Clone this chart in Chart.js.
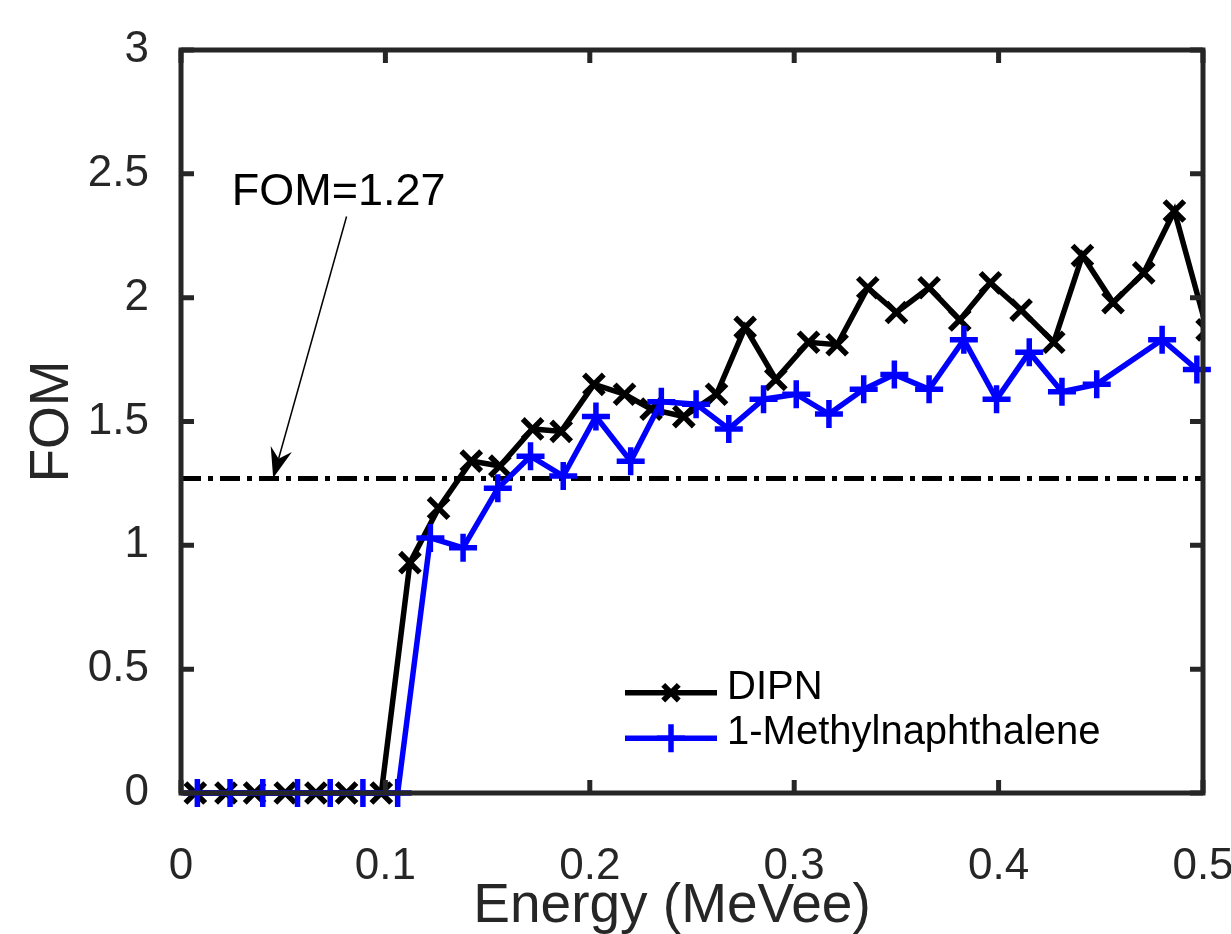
<!DOCTYPE html>
<html>
<head>
<meta charset="utf-8">
<title>FOM vs Energy</title>
<script src="https://cdn.jsdelivr.net/npm/chart.js@4/dist/chart.umd.min.js"></script>
<style>
  html, body { margin: 0; padding: 0; background: #fff; }
  canvas { display: block; }
</style>
</head>
<body>
<canvas id="fom" width="1231" height="934"></canvas>
<script>
const dipnEnergy = [0.007, 0.022, 0.036, 0.051, 0.066, 0.081, 0.098, 0.112, 0.126, 0.142, 0.156, 0.172, 0.186,
  0.202, 0.217, 0.230, 0.246, 0.262, 0.276, 0.291, 0.307, 0.321, 0.336, 0.350, 0.366, 0.381, 0.396,
  0.411, 0.427, 0.441, 0.456, 0.471, 0.486, 0.502];
const dipnFom = [0, 0, 0, 0, 0, 0, 0, 0.93, 1.15, 1.34, 1.32, 1.47, 1.46,
  1.65, 1.61, 1.55, 1.52, 1.61, 1.88, 1.67, 1.82, 1.81, 2.04, 1.94, 2.04, 1.91, 2.06,
  1.95, 1.82, 2.17, 1.98, 2.10, 2.35, 1.87];

const mnEnergy = [0.008, 0.024, 0.040, 0.057, 0.073, 0.089, 0.106, 0.122, 0.138, 0.155, 0.171, 0.187,
  0.203, 0.220, 0.235, 0.252, 0.268, 0.285, 0.301, 0.317, 0.334, 0.349, 0.366, 0.383, 0.399,
  0.415, 0.431, 0.448, 0.480, 0.497];
const mnFom = [0, 0, 0, 0, 0, 0, 0, 1.03, 0.99, 1.23, 1.36, 1.28,
  1.52, 1.34, 1.58, 1.57, 1.47, 1.59, 1.61, 1.53, 1.63, 1.69, 1.63, 1.83, 1.59,
  1.78, 1.62, 1.65, 1.83, 1.71];

const fomLimit = 1.27;
const fomLabel = "FOM=1.27";
const xTitle = "Energy (MeVee)";
const yTitle = "FOM";

// annotation anchor points, in data units
const noteText = { x: 0.0248, y: 2.375 };
const noteFrom = { x: 0.081, y: 2.328 };
const noteTo = { x: 0.0451, y: 1.272 };

const fontFamily = '"Liberation Sans", Arial, Helvetica, sans-serif';
const axisColor = "#262626";

function points(xs, ys) {
  return xs.map(function (x, i) {
    return { x: x, y: ys[i] };
  });
}

function tickText(value) {
  return String(Number(value.toFixed(2)));
}

function drawArrow(ctx, x0, y0, x1, y1) {
  const dx = x1 - x0;
  const dy = y1 - y0;
  const len = Math.sqrt(dx * dx + dy * dy);
  const ux = dx / len;
  const uy = dy / len;
  const headLen = 30;
  const halfW = 11;
  const notch = 10;
  ctx.beginPath();
  ctx.moveTo(x0, y0);
  ctx.lineTo(x1 - ux * (headLen - notch), y1 - uy * (headLen - notch));
  ctx.lineWidth = 1.5;
  ctx.stroke();
  ctx.beginPath();
  ctx.moveTo(x1, y1);
  ctx.lineTo(x1 - ux * headLen - uy * halfW, y1 - uy * headLen + ux * halfW);
  ctx.lineTo(x1 - ux * (headLen - notch), y1 - uy * (headLen - notch));
  ctx.lineTo(x1 - ux * headLen + uy * halfW, y1 - uy * headLen - ux * halfW);
  ctx.closePath();
  ctx.fill();
}

const frame = {
  id: "frame",
  afterDatasetsDraw(chart) {
    const ctx = chart.ctx;
    const a = chart.chartArea;
    const x = chart.scales.x;
    const y = chart.scales.y;
    ctx.save();

    // box with inward ticks on all four sides
    ctx.strokeStyle = axisColor;
    ctx.lineWidth = 5;
    ctx.lineCap = "square";
    ctx.strokeRect(a.left, a.top, a.right - a.left, a.bottom - a.top);
    ctx.lineCap = "butt";
    ctx.beginPath();
    x.ticks.forEach(function (t) {
      const px = x.getPixelForValue(t.value);
      ctx.moveTo(px, a.bottom);
      ctx.lineTo(px, a.bottom - 13);
      ctx.moveTo(px, a.top);
      ctx.lineTo(px, a.top + 13);
    });
    y.ticks.forEach(function (t) {
      const py = y.getPixelForValue(t.value);
      ctx.moveTo(a.left, py);
      ctx.lineTo(a.left + 13, py);
      ctx.moveTo(a.right, py);
      ctx.lineTo(a.right - 13, py);
    });
    ctx.stroke();

    // axis titles
    ctx.fillStyle = axisColor;
    ctx.font = "55px " + fontFamily;
    ctx.textAlign = "center";
    ctx.textBaseline = "alphabetic";
    ctx.fillText(xTitle, 672, 922);
    ctx.save();
    ctx.translate(68, (a.top + a.bottom) / 2);
    ctx.rotate(-Math.PI / 2);
    ctx.fillText(yTitle, 0, 0);
    ctx.restore();

    // FOM=1.27 note with arrow
    ctx.fillStyle = "#000";
    ctx.strokeStyle = "#000";
    ctx.font = "45px " + fontFamily;
    ctx.textAlign = "left";
    ctx.fillText(fomLabel, x.getPixelForValue(noteText.x), y.getPixelForValue(noteText.y));
    drawArrow(ctx,
      x.getPixelForValue(noteFrom.x), y.getPixelForValue(noteFrom.y),
      x.getPixelForValue(noteTo.x), y.getPixelForValue(noteTo.y));

    // legend
    const rows = [692.7, 738.3];
    ctx.font = "40px " + fontFamily;
    ctx.textBaseline = "middle";
    [0, 1].forEach(function (i) {
      const ds = chart.data.datasets[i];
      const ly = rows[i];
      ctx.beginPath();
      ctx.moveTo(625, ly);
      ctx.lineTo(717, ly);
      ctx.strokeStyle = ds.borderColor;
      ctx.lineWidth = 5.5;
      ctx.stroke();
      ctx.lineWidth = 5.5;
      ctx.strokeStyle = ds.borderColor;
      Chart.helpers.drawPoint(ctx, {
        pointStyle: ds.pointStyle,
        radius: i === 0 ? 11 : 14,
        rotation: 0,
        borderWidth: 5.5
      }, 671, ly);
      ctx.fillStyle = "#000";
      ctx.fillText(ds.label, 727, ly - 5);
    });

    ctx.restore();
  }
};

const canvas = document.getElementById("fom");

new Chart(canvas, {
  type: "line",
  data: {
    datasets: [
      {
        label: "DIPN",
        data: points(dipnEnergy, dipnFom),
        borderColor: "#000000",
        backgroundColor: "#000000",
        borderWidth: 5.5,
        pointStyle: "crossRot",
        pointRadius: 14,
        pointBorderWidth: 5.5,
        pointBorderColor: "#000000",
        tension: 0,
        order: 2,
        clip: { left: 20, top: 20, right: 0, bottom: 20 },
      },
      {
        label: "1-Methylnaphthalene",
        data: points(mnEnergy, mnFom),
        borderColor: "#0000ff",
        backgroundColor: "#0000ff",
        borderWidth: 5.5,
        pointStyle: "cross",
        pointRadius: 14,
        pointBorderWidth: 5.5,
        pointBorderColor: "#0000ff",
        tension: 0,
        order: 1,
        clip: 20,
      },
      {
        label: fomLabel,
        data: [
          { x: 0, y: fomLimit },
          { x: 0.5, y: fomLimit },
        ],
        borderColor: "#000000",
        borderWidth: 5,
        borderDash: [20, 7, 5, 7],
        pointRadius: 0,
        order: 3,
        clip: 0,
      },
    ],
  },
  options: {
    responsive: false,
    animation: false,
    devicePixelRatio: 1,
    events: [],
    layout: {
      padding: { left: 0, top: 50, right: 28, bottom: 0 },
    },
    plugins: {
      legend: { display: false },
      tooltip: { enabled: false },
    },
    scales: {
      x: {
        type: "linear",
        min: 0,
        max: 0.5,
        grid: { display: false },
        border: { display: false },
        ticks: {
          stepSize: 0.1,
          padding: 39,
          maxRotation: 0,
          autoSkip: false,
          color: axisColor,
          font: { family: fontFamily, size: 44 },
          callback: tickText,
        },
        afterFit: function (s) {
          s.height = 141;
          s.paddingLeft = 0;
          s.paddingRight = 0;
        },
      },
      y: {
        min: 0,
        max: 3,
        grid: { display: false },
        border: { display: false },
        ticks: {
          stepSize: 0.5,
          padding: 24,
          color: axisColor,
          font: { family: fontFamily, size: 44 },
          callback: tickText,
        },
        afterFit: function (s) {
          s.width = 181;
          s.paddingTop = 0;
          s.paddingBottom = 0;
        },
      },
    },
  },
  plugins: [frame],
});
</script>
</body>
</html>
